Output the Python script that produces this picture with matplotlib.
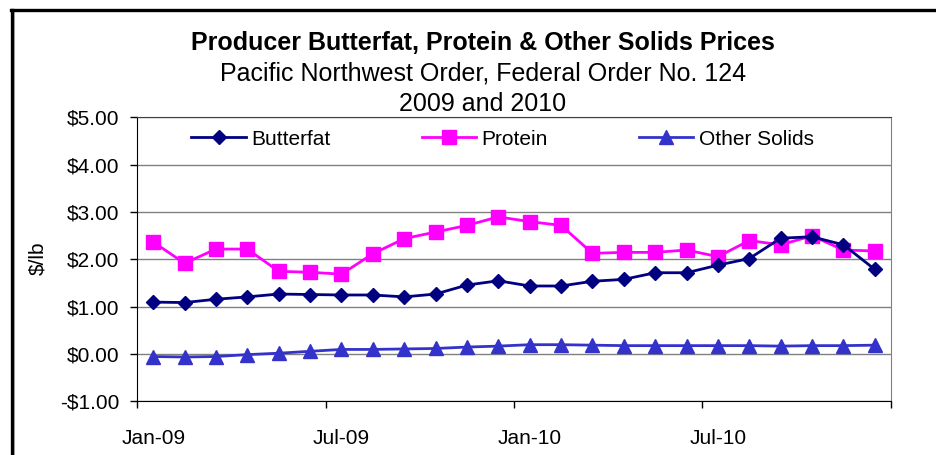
import matplotlib.pyplot as plt
from matplotlib.lines import Line2D

plt.rcParams['font.family'] = ['Liberation Sans', 'DejaVu Sans']

# monthly prices, Jan-09 .. Dec-10 ($/lb)
months = ['Jan-09', 'Feb-09', 'Mar-09', 'Apr-09', 'May-09', 'Jun-09',
          'Jul-09', 'Aug-09', 'Sep-09', 'Oct-09', 'Nov-09', 'Dec-09',
          'Jan-10', 'Feb-10', 'Mar-10', 'Apr-10', 'May-10', 'Jun-10',
          'Jul-10', 'Aug-10', 'Sep-10', 'Oct-10', 'Nov-10', 'Dec-10']
butterfat = [1.10, 1.09, 1.16, 1.21, 1.27, 1.26, 1.25, 1.25, 1.21, 1.27, 1.46, 1.55,
             1.44, 1.44, 1.54, 1.58, 1.72, 1.72, 1.88, 2.02, 2.45, 2.48, 2.31, 1.79]
protein = [2.37, 1.92, 2.22, 2.22, 1.75, 1.73, 1.69, 2.12, 2.44, 2.58, 2.72, 2.90,
           2.80, 2.72, 2.13, 2.15, 2.15, 2.20, 2.06, 2.40, 2.31, 2.50, 2.20, 2.18]
other_solids = [-0.05, -0.06, -0.05, -0.01, 0.02, 0.06, 0.10, 0.10, 0.11, 0.12, 0.15, 0.17,
                0.20, 0.20, 0.19, 0.18, 0.18, 0.18, 0.18, 0.18, 0.17, 0.18, 0.18, 0.19]
y_ticks = [-1, 0, 1, 2, 3, 4, 5]
label_every = 6

fig = plt.figure(figsize=(9.36, 4.55), dpi=100)
ax = fig.add_axes([0.1469, 0.1176, 0.8045, 0.6242])

x = range(len(months))
ax.plot(x, butterfat, color='#000080', lw=2, marker='D', ms=7, label='Butterfat', zorder=4)
ax.plot(x, protein, color='#FF00FF', lw=2, marker='s', ms=10, label='Protein', zorder=3)
ax.plot(x, other_solids, color='#3333CC', lw=2, marker='^', ms=10, label='Other Solids', zorder=3)

# y axis
ax.set_ylim(y_ticks[0], y_ticks[-1])
ax.set_yticks(y_ticks)
ax.set_yticklabels([f'-${-v:.2f}' if v < 0 else f'${v:.2f}' for v in y_ticks], fontsize=15)
ax.yaxis.grid(True, color='#808080', lw=1)
ax.set_axisbelow(True)

# category axis: ticks between categories, labels on category centers
ax.set_xlim(-0.5, len(months) - 0.5)
ax.set_xticks([i - 0.5 for i in range(0, len(months) + 1, label_every)])
ax.set_xticklabels([])
ax.set_xticks(list(range(0, len(months), label_every)), minor=True)
ax.set_xticklabels(months[::label_every], minor=True, fontsize=15)
ax.tick_params(axis='x', which='minor', length=0, pad=20)
ax.tick_params(axis='both', which='major', length=5, width=1, direction='out', color='black')
ax.tick_params(axis='y', pad=8)

for side in ['left', 'bottom']:
    ax.spines[side].set_color('black')
ax.spines['top'].set_color('#404040')
ax.spines['right'].set_color('#808080')

fig.text(0.040, 0.433, '$/lb', rotation=90, ha='center', va='center', fontsize=15)

fig.text(0.516, 0.905, 'Producer Butterfat, Protein & Other Solids Prices',
         ha='center', va='center', fontsize=18, fontweight='bold')
fig.text(0.516, 0.838, 'Pacific Northwest Order, Federal Order No. 124',
         ha='center', va='center', fontsize=18)
fig.text(0.516, 0.772, '2009 and 2010', ha='center', va='center', fontsize=18)

ax.legend(loc='center', bbox_to_anchor=(0.4847, 0.924), ncol=3, frameon=False,
          fontsize=15, handlelength=2.6, handletextpad=0.25, columnspacing=4.4,
          borderpad=0, borderaxespad=0)

# outer frame (left and top edges)
fig.add_artist(Line2D([0.0136, 0.0136], [0.0, 0.976], color='#c0c0c0', lw=2.2))
fig.add_artist(Line2D([0.0125, 1.0], [0.978, 0.978], color='#c0c0c0', lw=2.2))
fig.add_artist(Line2D([0.0125, 0.0125], [0.0, 0.978], color='black', lw=2.4))
fig.add_artist(Line2D([0.0115, 1.0], [0.977, 0.977], color='black', lw=2.4))

fig.savefig('out.png', dpi=100)
